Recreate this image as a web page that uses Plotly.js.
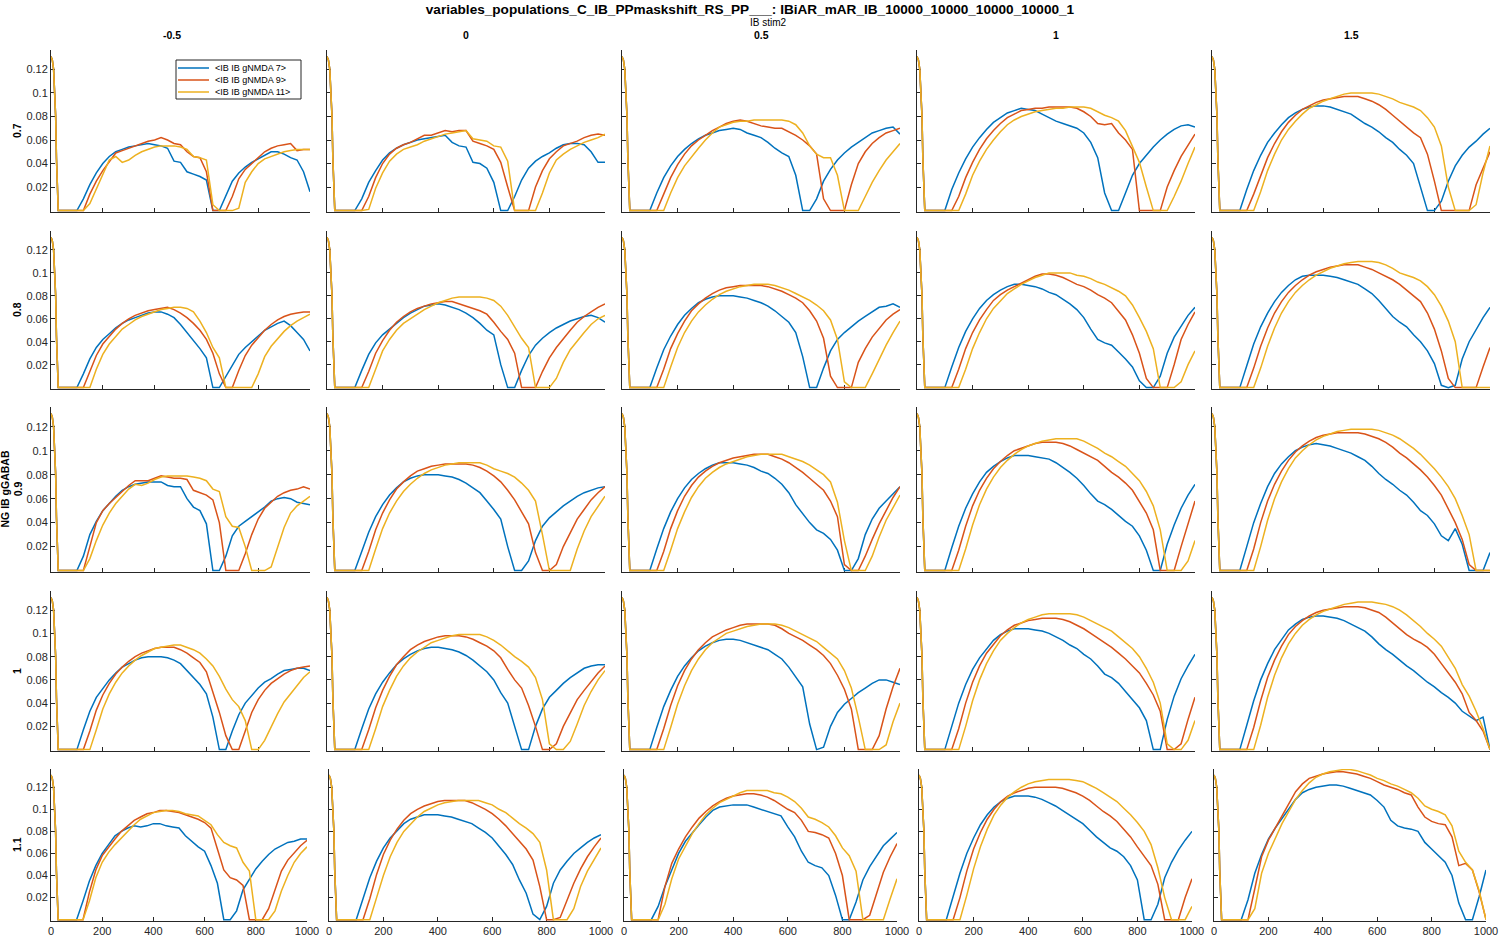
<!DOCTYPE html>
<html><head><meta charset="utf-8">
<script src="https://cdn.plot.ly/plotly-3.0.1.min.js"></script>
<style>html,body{margin:0;padding:0;background:#fff}#chart{width:1500px;height:938px}</style>
</head><body><div id="chart"></div>
<script>
// ---------------- DATA ----------------
const TIME_HEAD = [0,5,10,14,18,21,24,28];
const RATE_HEAD = [0.131,0.128,0.120,0.104,0.080,0.045,0.015,0];
const TIME = [50,75,100,125,150,175,200,225,250,275,300,325,350,375,400,425,450,475,500,525,550,575,600,625,650,675,700,725,750,775,800,825,850,875,900,925,950,975,1000];

const rowLabels = ['0.7','0.8','0.9','1','1.1'];
const colLabels = ['-0.5','0','0.5','1','1.5'];
const seriesNames = ['&lt;IB IB gNMDA 7&gt;','&lt;IB IB gNMDA 9&gt;','&lt;IB IB gNMDA 11&gt;'];
const seriesColors = ['#0072BD','#D95319','#EDB120'];
const xTicks = [0,200,400,600,800,1000];
const yTicks = [0.02,0.04,0.06,0.08,0.1,0.12];
const yTickText = ['0.02','0.04','0.06','0.08','0.1','0.12'];

// row 0.7
const r07m05_g7 = [0,0,0,.010,.022,.032,.040,.046,.050,.052, .054,.055,.056,.057,.056,.055,.053,.042,.041,.033, .031,.029,.026,0,0,.013,.025,.032,.037,.041, .044,.047,.050,.050,.048,.045,.043,.033,.016];
const r07m05_g9 = [0,0,0,0,.014,.025,.034,.042,.049,.051, .053,.055,.057,.059,.060,.062,.060,.057,.056,.050, .046,.045,.033,0,0,0,.012,.027,.035,.040, .045,.050,.053,.055,.056,.057,.051,.052,.052];
const r07m05_g11 = [0,0,0,0,.006,.018,.030,.043,.046,.041, .043,.047,.050,.052,.054,.055,.055,.055,.054,.052, .046,.045,.043,.005,0,0,0,.002,.024,.033, .040,.044,.046,.048,.050,.051,.052,.052,.052];

const r07p00_g7 = [0,0,0,.010,.024,.034,.043,.049,.053,.056, .058,.060,.061,.062,.063,.064,.058,.055,.054,.041, .040,.036,.024,0,0,.012,.026,.036,.042,.046, .049,.053,.056,.057,.057,.056,.050,.041,.041];
const r07p00_g9 = [0,0,0,0,.012,.028,.040,.048,.053,.056, .058,.061,.064,.064,.066,.068,.067,.068,.068,.059, .057,.055,.052,.041,.020,0,0,0,.020,.034, .044,.050,.055,.057,.059,.062,.064,.065,.064];
const r07p00_g11 = [0,0,0,0,.001,.019,.032,.042,.048,.052, .054,.056,.059,.061,.063,.065,.066,.067,.068,.061, .060,.059,.055,.054,.042,0,0,0,0,.015, .032,.043,.048,.052,.055,.058,.060,.062,.065];

const r07p05_g7 = [0,0,0,.015,.028,.038,.046,.052,.057,.061, .064,.066,.068,.069,.070,.069,.066,.064,.062,.058, .053,.049,.046,.030,0,0,.010,.025,.035,.043, .049,.054,.058,.062,.066,.068,.070,.071,.065];
const r07p05_g9 = [0,0,0,0,.014,.028,.039,.048,.055,.060, .064,.068,.071,.074,.076,.077,.076,.074,.072,.071, .070,.070,.067,.064,.060,.055,.048,.010,0,0, 0,.022,.040,.050,.057,.062,.066,.068,.070];
const r07p05_g11 = [0,0,0,0,0,.015,.028,.038,.046,.053, .060,.066,.071,.073,.075,.076,.076,.077,.077,.077, .077,.077,.076,.073,.066,.055,.048,.045,.045,.030, 0,0,0,.012,.024,.034,.043,.050,.057];

const r07p10_g7 = [0,0,0,.018,.032,.044,.054,.062,.069,.075, .079,.083,.085,.087,.086,.085,.082,.079,.076,.074, .072,.070,.066,.058,.045,.015,0,0,.015,.030, .040,.047,.054,.060,.065,.069,.072,.073,.071];
const r07p10_g9 = [0,0,0,0,.012,.028,.041,.052,.061,.068, .074,.079,.082,.085,.086,.087,.087,.088,.088,.088, .088,.087,.084,.080,.074,.073,.074,.066,.060,.052, 0,0,0,0,.020,.034,.046,.056,.065];
const r07p10_g11 = [0,0,0,0,0,.014,.030,.042,.052,.060, .067,.073,.077,.080,.082,.084,.085,.086,.087,.087, .088,.088,.088,.087,.084,.081,.079,.076,.068,.055, .041,.020,0,0,0,.012,.025,.040,.054];

const r07p15_g7 = [0,0,0,.018,.034,.047,.058,.066,.073,.079, .083,.086,.088,.089,.089,.088,.086,.084,.082,.078, .074,.071,.067,.062,.058,.052,.047,.040,.020,0, 0,.008,.025,.038,.047,.054,.059,.065,.070];
const r07p15_g9 = [0,0,0,0,.014,.030,.045,.057,.067,.075, .081,.086,.089,.092,.094,.095,.096,.097,.097,.097, .095,.093,.090,.086,.081,.076,.071,.066,.062,.048, .025,0,0,0,0,0,.022,.036,.050];
const r07p15_g11 = [0,0,0,0,0,.016,.034,.048,.060,.069, .076,.082,.087,.090,.093,.095,.097,.099,.100,.100, .100,.100,.099,.097,.095,.092,.090,.088,.085,.079, .071,.055,.020,0,0,0,.005,.032,.055];

// row 0.8
const r08m05_g7 = [0,0,0,.012,.025,.035,.042,.047,.052,.056, .059,.061,.063,.065,.066,.066,.064,.061,.055,.048, .042,.034,.026,0,0,.010,.020,.029,.035,.040, .045,.050,.053,.056,.058,.054,.048,.042,.032];
const r08m05_g9 = [0,0,0,0,.014,.028,.038,.045,.051,.056, .060,.063,.065,.067,.068,.069,.070,.068,.065,.061, .056,.050,.042,.030,.012,0,0,.015,.028,.037, .044,.050,.055,.059,.062,.064,.065,.066,.066];
const r08m05_g11 = [0,0,0,0,0,.016,.029,.038,.045,.051, .055,.059,.062,.064,.066,.068,.069,.070,.070,.069, .066,.058,.048,.035,.026,0,0,0,0,0, .012,.027,.036,.043,.049,.054,.058,.061,.064];

const r08p00_g7 = [0,0,0,.015,.029,.039,.046,.051,.056,.061, .065,.068,.071,.072,.073,.072,.070,.068,.065,.061, .056,.050,.046,.020,0,0,.015,.028,.037,.043, .048,.052,.055,.058,.060,.062,.063,.061,.057];
const r08p00_g9 = [0,0,0,0,.014,.030,.041,.050,.057,.062, .066,.069,.071,.073,.074,.075,.075,.073,.071,.069, .067,.064,.057,.049,.042,.030,0,0,0,.014, .026,.035,.043,.050,.057,.062,.066,.070,.073];
const r08p00_g11 = [0,0,0,0,0,.016,.032,.042,.050,.056, .060,.064,.068,.071,.074,.076,.078,.079,.079,.079, .079,.078,.076,.071,.063,.053,.043,.035,0,0, 0,.008,.022,.033,.041,.048,.055,.060,.063];

const r08p05_g7 = [0,0,0,.017,.033,.045,.055,.063,.069,.074, .077,.079,.080,.080,.080,.079,.078,.076,.074,.071, .067,.062,.057,.048,.027,0,0,.017,.032,.042, .048,.053,.058,.062,.066,.070,.071,.073,.070];
const r08p05_g9 = [0,0,0,0,.016,.034,.047,.058,.067,.073, .078,.082,.085,.087,.088,.089,.089,.089,.089,.088, .086,.084,.081,.078,.074,.067,.058,.043,.010,0, 0,0,.022,.034,.044,.052,.059,.064,.068];
const r08p05_g11 = [0,0,0,0,0,.018,.035,.048,.058,.066, .072,.077,.081,.084,.086,.088,.089,.090,.090,.090, .089,.087,.085,.082,.079,.076,.072,.067,.059,.042, .005,0,0,0,.012,.025,.037,.048,.058];

const r08p10_g7 = [0,0,0,.018,.035,.049,.060,.069,.076,.081, .085,.088,.090,.090,.089,.088,.086,.083,.081,.077, .073,.068,.061,.051,.042,.039,.037,.031,.025,.018, .006,0,0,.010,.030,.044,.054,.063,.070];
const r08p10_g9 = [0,0,0,0,.016,.034,.048,.059,.068,.076, .081,.085,.088,.091,.094,.097,.099,.099,.098,.096, .093,.090,.088,.085,.081,.078,.074,.067,.059,.046, .030,.008,0,0,0,.020,.042,.055,.066];
const r08p10_g11 = [0,0,0,0,0,.016,.034,.048,.060,.069, .076,.082,.086,.090,.093,.096,.098,.100,.100,.100, .100,.098,.097,.095,.092,.090,.087,.084,.080,.072, .061,.049,.034,0,0,0,.005,.020,.032];

const r08p15_g7 = [0,0,0,.019,.038,.053,.065,.075,.083,.089, .094,.097,.098,.098,.098,.097,.096,.094,.092,.090, .086,.082,.076,.069,.062,.057,.053,.046,.040,.032, .021,.002,0,.002,.025,.040,.051,.061,.070];
const r08p15_g9 = [0,0,0,0,.017,.036,.052,.065,.075,.083, .089,.094,.098,.101,.103,.105,.106,.107,.107,.107, .105,.103,.100,.097,.094,.090,.085,.080,.075,.065, .051,.032,.008,0,0,0,0,.018,.035];
const r08p15_g11 = [0,0,0,0,0,.017,.036,.052,.065,.075, .083,.089,.094,.098,.101,.104,.106,.108,.109,.110, .110,.110,.109,.107,.104,.100,.098,.096,.093,.088, .081,.071,.058,.040,0,0,0,0,0];

// row 0.9
const r09m05_g7 = [0,0,0,.012,.030,.041,.050,.056,.062,.067, .070,.072,.073,.074,.074,.074,.071,.070,.070,.060, .053,.050,.039,0,0,.012,.029,.037,.041,.045, .049,.053,.058,.060,.061,.060,.057,.056,.055];
const r09m05_g9 = [0,0,0,0,.020,.040,.050,.056,.061,.066, .071,.075,.075,.075,.077,.079,.078,.077,.077,.076, .067,.065,.063,.059,.040,0,0,0,.014,.030, .043,.052,.057,.062,.065,.067,.068,.070,.068];
const r09m05_g11 = [0,0,0,0,.010,.025,.038,.048,.056,.062, .068,.072,.071,.073,.076,.078,.079,.079,.079,.079, .078,.077,.075,.068,.066,.045,.037,.036,.020,0, 0,0,.003,.020,.036,.048,.054,.058,.062];

const r09p00_g7 = [0,0,0,.016,.032,.045,.055,.063,.069,.074, .077,.079,.080,.080,.080,.079,.078,.076,.073,.069, .065,.058,.051,.043,.020,0,0,.008,.025,.037, .044,.049,.054,.058,.062,.065,.067,.069,.070];
const r09p00_g9 = [0,0,0,0,.016,.034,.048,.059,.068,.074, .079,.083,.085,.087,.088,.089,.089,.089,.089,.088, .086,.083,.079,.074,.067,.059,.049,.039,.015,0, 0,.005,.020,.032,.043,.051,.059,.065,.070];
const r09p00_g11 = [0,0,0,0,0,.018,.035,.048,.058,.066, .072,.077,.081,.084,.086,.088,.089,.090,.090,.090, .090,.088,.085,.083,.081,.078,.073,.067,.058,.030, 0,0,0,0,.018,.033,.045,.054,.062];

const r09p05_g7 = [0,0,0,.018,.035,.049,.060,.069,.076,.081, .085,.088,.090,.090,.090,.089,.088,.086,.083,.081, .077,.072,.065,.055,.047,.040,.034,.031,.026,.017, 0,0,.010,.030,.043,.052,.058,.064,.070];
const r09p05_g9 = [0,0,0,0,.016,.035,.050,.062,.071,.078, .083,.087,.090,.092,.094,.095,.096,.097,.097,.097, .095,.093,.090,.086,.082,.077,.072,.067,.058,.045, .005,0,0,.012,.026,.039,.050,.061,.070];
const r09p05_g11 = [0,0,0,0,0,.017,.035,.049,.061,.070, .077,.082,.086,.089,.091,.093,.095,.096,.097,.097, .097,.097,.095,.093,.091,.088,.084,.080,.074,.057, .025,0,0,0,.012,.028,.042,.053,.063];

const r09p10_g7 = [0,0,0,.019,.037,.052,.064,.074,.082,.087, .091,.094,.096,.096,.096,.095,.094,.093,.090,.086, .082,.077,.071,.064,.058,.055,.051,.046,.041,.037, .029,.017,0,0,.022,.038,.052,.063,.072];
const r09p10_g9 = [0,0,0,0,.017,.037,.054,.067,.077,.085, .091,.096,.100,.102,.104,.106,.107,.107,.107,.106, .104,.101,.098,.095,.092,.087,.082,.078,.073,.067, .058,.048,.034,0,0,0,.020,.040,.058];
const r09p10_g11 = [0,0,0,0,0,.018,.038,.055,.068,.078, .086,.092,.097,.101,.104,.106,.108,.109,.110,.110, .110,.110,.108,.105,.102,.098,.095,.091,.087,.081, .075,.066,.054,.034,0,0,0,.008,.025];

const r09p15_g7 = [0,0,0,.020,.040,.056,.070,.081,.089,.095, .100,.103,.105,.106,.105,.104,.102,.100,.098,.095, .092,.087,.081,.076,.072,.067,.063,.057,.050,.046, .039,.029,.025,.035,.022,0,0,0,.015];
const r09p15_g9 = [0,0,0,0,.018,.040,.058,.072,.083,.092, .099,.104,.108,.111,.113,.114,.115,.115,.115,.115, .114,.112,.110,.107,.103,.098,.094,.089,.084,.078, .071,.063,.052,.040,.026,.005,0,0,0];
const r09p15_g11 = [0,0,0,0,0,.020,.042,.060,.074,.085, .094,.100,.105,.109,.112,.114,.116,.117,.118,.118, .118,.118,.117,.115,.113,.110,.106,.102,.097,.091, .085,.078,.070,.060,.046,.030,0,0,0];

// row 1
const r10m05_g7 = [0,0,0,.017,.033,.045,.053,.060,.066,.071, .074,.077,.079,.080,.080,.080,.079,.077,.074,.068, .062,.056,.048,.028,0,0,.016,.030,.040,.047, .053,.058,.061,.065,.068,.069,.070,.070,.068];
const r10m05_g9 = [0,0,0,0,.016,.034,.047,.057,.065,.071, .076,.080,.083,.085,.087,.088,.088,.088,.086,.083, .079,.075,.067,.050,.032,.012,0,0,.016,.032, .043,.051,.057,.061,.065,.068,.070,.071,.072];
const r10m05_g11 = [0,0,0,0,0,.017,.035,.048,.058,.066, .072,.077,.081,.084,.087,.088,.089,.090,.090,.088, .086,.083,.078,.072,.063,.052,.043,.037,.025,0, 0,.008,.020,.031,.041,.048,.055,.062,.067];

const r10p00_g7 = [0,0,0,.018,.035,.048,.058,.066,.073,.078, .082,.085,.087,.088,.088,.087,.086,.084,.081,.077, .072,.067,.060,.049,.040,.020,0,0,.020,.035, .045,.051,.057,.062,.066,.070,.072,.073,.073];
const r10p00_g9 = [0,0,0,0,.017,.036,.051,.063,.073,.080, .086,.090,.093,.095,.097,.098,.098,.098,.097,.095, .092,.089,.085,.079,.069,.060,.053,.038,.020,0, 0,.005,.020,.032,.043,.051,.059,.066,.072];
const r10p00_g11 = [0,0,0,0,0,.018,.037,.051,.063,.072, .079,.084,.088,.092,.094,.096,.098,.099,.099,.099, .099,.097,.094,.090,.085,.080,.076,.071,.062,.043, .005,0,0,.007,.022,.038,.050,.060,.068];

const r10p05_g7 = [0,0,0,.019,.037,.051,.063,.072,.079,.085, .089,.092,.094,.095,.095,.094,.092,.090,.088,.086, .082,.078,.071,.062,.054,.022,0,.002,.020,.032, .039,.044,.049,.053,.057,.060,.060,.058,.056];
const r10p05_g9 = [0,0,0,0,.018,.038,.055,.068,.078,.086, .092,.097,.100,.103,.105,.107,.108,.108,.108,.108, .107,.104,.100,.097,.094,.090,.086,.081,.074,.064, .052,.035,0,0,0,.012,.035,.054,.070];
const r10p05_g11 = [0,0,0,0,0,.019,.039,.055,.068,.078, .086,.092,.096,.100,.102,.104,.106,.107,.108,.108, .108,.107,.105,.102,.099,.096,.093,.088,.083,.078, .068,.053,.028,0,0,0,.004,.024,.040];

const r10p10_g7 = [0,0,0,.020,.040,.056,.069,.079,.087,.094, .099,.102,.104,.104,.104,.103,.102,.100,.097,.094, .090,.087,.082,.078,.072,.065,.062,.057,.050,.043, .036,.025,0,0,.026,.046,.061,.072,.082];
const r10p10_g9 = [0,0,0,0,.018,.040,.058,.072,.083,.091, .098,.103,.107,.109,.111,.112,.113,.113,.113,.112, .110,.107,.104,.100,.096,.092,.088,.083,.078,.072, .066,.057,.047,.033,0,0,.005,.026,.045];
const r10p10_g11 = [0,0,0,0,0,.020,.042,.060,.074,.085, .094,.100,.105,.109,.112,.114,.116,.117,.117,.117, .117,.116,.114,.111,.108,.105,.102,.097,.092,.087, .080,.070,.058,.040,.005,0,0,.008,.025];

const r10p15_g7 = [0,0,0,.021,.042,.060,.074,.086,.095,.103, .108,.112,.114,.115,.115,.114,.113,.111,.108,.105, .102,.097,.091,.086,.082,.077,.072,.068,.063,.058, .054,.049,.045,.040,.033,.029,.025,.028,0];
const r10p15_g9 = [0,0,0,0,.019,.042,.062,.077,.089,.099, .106,.111,.115,.118,.120,.121,.122,.123,.123,.123, .122,.120,.118,.114,.109,.104,.099,.095,.092,.088, .082,.074,.066,.058,.048,.032,.025,.016,0];
const r10p15_g11 = [0,0,0,0,0,.021,.045,.064,.079,.091, .100,.107,.112,.116,.119,.121,.123,.125,.126,.127, .127,.127,.126,.125,.123,.120,.116,.111,.106,.100, .095,.089,.080,.070,.056,.046,.033,.018,0];

// row 1.1
const r11m05_g7 = [0,0,0,.017,.035,.049,.060,.068,.076,.080, .083,.085,.084,.085,.087,.087,.085,.084,.083,.076, .071,.066,.062,.049,.033,0,0,.008,.027,.037, .046,.053,.059,.064,.067,.070,.071,.073,.073];
const r11m05_g9 = [0,0,0,0,.025,.045,.058,.066,.073,.080, .085,.090,.093,.096,.097,.099,.099,.098,.097,.095, .093,.091,.088,.083,.064,.045,.038,.036,.031,0, 0,0,.010,.028,.044,.054,.061,.067,.072];
const r11m05_g11 = [0,0,0,0,.017,.038,.052,.061,.068,.074, .080,.086,.091,.094,.097,.098,.099,.099,.098,.096, .095,.094,.090,.086,.077,.070,.067,.065,.052,.044, 0,0,0,.008,.026,.040,.052,.060,.066];

const r11p00_g7 = [0,0,0,.019,.038,.053,.065,.074,.081,.087, .091,.093,.095,.095,.095,.094,.093,.091,.089,.087, .083,.079,.074,.067,.059,.050,.036,.024,.005,0, .012,.033,.045,.053,.060,.065,.070,.074,.077];
const r11p00_g9 = [0,0,0,0,.019,.041,.059,.072,.082,.090, .096,.100,.103,.105,.107,.108,.108,.108,.108,.106, .103,.100,.096,.091,.085,.078,.070,.064,.054,.030, 0,0,.002,.018,.033,.046,.057,.066,.074];
const r11p00_g11 = [0,0,0,0,0,.020,.040,.057,.070,.080, .087,.093,.098,.101,.104,.106,.107,.108,.108,.108, .108,.106,.104,.100,.097,.092,.087,.083,.078,.070, .045,0,0,0,.010,.030,.044,.055,.065];

const r11p05_g7 = [0,0,0,.012,.030,.045,.060,.071,.079,.086, .093,.099,.102,.103,.104,.104,.104,.102,.100,.098, .096,.094,.084,.075,.062,.052,.049,.047,.040,.022, 0,0,.016,.036,.048,.058,.067,.073,.079];
const r11p05_g9 = [0,0,0,0,.030,.051,.064,.075,.084,.092, .098,.103,.107,.110,.112,.113,.114,.114,.113,.111, .108,.104,.100,.097,.090,.080,.079,.077,.074,.060, .040,0,0,0,.004,.024,.043,.057,.069];
const r11p05_g11 = [0,0,0,0,.014,.037,.055,.067,.078,.087, .095,.101,.106,.109,.112,.115,.117,.117,.117,.117, .115,.114,.111,.107,.101,.093,.091,.088,.084,.076, .065,.058,.044,0,0,0,0,.019,.037];

const r11p10_g7 = [0,0,0,.021,.042,.060,.074,.086,.095,.102, .107,.110,.112,.112,.112,.111,.109,.106,.103,.099, .095,.091,.087,.081,.075,.070,.065,.062,.057,.049, .036,0,0,.014,.038,.052,.063,.072,.080];
const r11p10_g9 = [0,0,0,0,.020,.044,.064,.079,.091,.100, .107,.112,.115,.117,.119,.120,.120,.120,.120,.119, .117,.115,.112,.108,.103,.098,.094,.089,.082,.075, .066,.058,.049,.032,0,0,0,.020,.037];
const r11p10_g11 = [0,0,0,0,0,.022,.046,.066,.082,.095, .104,.111,.116,.120,.123,.125,.126,.127,.127,.127, .127,.126,.125,.122,.119,.115,.111,.107,.101,.095, .088,.080,.068,.047,.020,0,0,0,.012];

const r11p15_g7 = [0,0,0,.018,.042,.059,.073,.083,.092,.100, .109,.115,.118,.120,.121,.122,.122,.121,.119,.117, .115,.113,.108,.102,.090,.085,.083,.082,.080,.070, .064,.058,.052,.040,.015,0,0,.021,.045];
const r11p15_g9 = [0,0,0,0,.028,.057,.072,.083,.095,.105, .116,.123,.128,.130,.132,.133,.134,.134,.133,.132, .130,.128,.125,.122,.120,.118,.115,.113,.102,.093, .089,.087,.086,.075,.049,.051,.045,.025,0];
const r11p15_g11 = [0,0,0,0,.010,.042,.060,.074,.087,.098, .109,.117,.124,.129,.132,.134,.135,.136,.136,.135, .133,.131,.128,.126,.123,.121,.118,.115,.110,.103, .100,.098,.095,.085,.062,.052,.045,.026,0];

const panels = [
  [[r07m05_g7,r07m05_g9,r07m05_g11],[r07p00_g7,r07p00_g9,r07p00_g11],[r07p05_g7,r07p05_g9,r07p05_g11],[r07p10_g7,r07p10_g9,r07p10_g11],[r07p15_g7,r07p15_g9,r07p15_g11]],
  [[r08m05_g7,r08m05_g9,r08m05_g11],[r08p00_g7,r08p00_g9,r08p00_g11],[r08p05_g7,r08p05_g9,r08p05_g11],[r08p10_g7,r08p10_g9,r08p10_g11],[r08p15_g7,r08p15_g9,r08p15_g11]],
  [[r09m05_g7,r09m05_g9,r09m05_g11],[r09p00_g7,r09p00_g9,r09p00_g11],[r09p05_g7,r09p05_g9,r09p05_g11],[r09p10_g7,r09p10_g9,r09p10_g11],[r09p15_g7,r09p15_g9,r09p15_g11]],
  [[r10m05_g7,r10m05_g9,r10m05_g11],[r10p00_g7,r10p00_g9,r10p00_g11],[r10p05_g7,r10p05_g9,r10p05_g11],[r10p10_g7,r10p10_g9,r10p10_g11],[r10p15_g7,r10p15_g9,r10p15_g11]],
  [[r11m05_g7,r11m05_g9,r11m05_g11],[r11p00_g7,r11p00_g9,r11p00_g11],[r11p05_g7,r11p05_g9,r11p05_g11],[r11p10_g7,r11p10_g9,r11p10_g11],[r11p15_g7,r11p15_g9,r11p15_g11]]
];

// ---------------- LAYOUT ----------------
const W = 1500, H = 938;
const ROW_PX = [[50,212],[231,389],[407,572],[591,751],[769,921]];
const COL_PX = [[51,310],[327,605],[622,900],[917,1195],[1212,1490]];
const COL_PX_LAST = [[51,307],[329,601],[624,897],[919,1192],[1214,1486]];
const FONT = '"Liberation Sans", Arial, Helvetica, sans-serif';
const AX = '#262626';
const px = v => v / W;
const py = v => 1 - v / H;

const traces = [];
const layout = {
  width: W, height: H,
  margin: {l:0, r:0, t:0, b:0},
  paper_bgcolor: '#fff', plot_bgcolor: '#fff',
  font: {family: FONT, color: AX},
  showlegend: false,
  title: {text: '<b>variables_populations_C_IB_PPmaskshift_RS_PP___: IBiAR_mAR_IB_10000_10000_10000_10000_1</b>',
          x: 0.5, xanchor: 'center', y: py(9), yanchor: 'middle',
          font: {size: 13.6, family: FONT, color: '#000'}},
  annotations: [],
  shapes: []
};

for (let r = 0; r < 5; r++) {
  for (let c = 0; c < 5; c++) {
    const k = r*5 + c;
    const sfx = k === 0 ? '' : String(k+1);
    const cols = r === 4 ? COL_PX_LAST : COL_PX;
    layout['xaxis'+sfx] = {
      domain: [px(cols[c][0]), px(cols[c][1])], anchor: 'y'+sfx, range: [0,1000],
      showline: true, linecolor: AX, linewidth: 1, mirror: false,
      ticks: 'inside', ticklen: 4, tickwidth: 1, tickcolor: AX,
      tickvals: xTicks, ticktext: xTicks.map(String), showticklabels: r === 4,
      tickfont: {size: 11, color: AX, family: FONT},
      showgrid: false, zeroline: false, fixedrange: true, layer: 'below traces'
    };
    layout['yaxis'+sfx] = {
      domain: [py(ROW_PX[r][1]), py(ROW_PX[r][0])], anchor: 'x'+sfx, range: [-0.0012, 0.1365],
      showline: true, linecolor: AX, linewidth: 1, mirror: false,
      ticks: 'inside', ticklen: 4, tickwidth: 1, tickcolor: AX,
      tickvals: yTicks, ticktext: yTickText, showticklabels: c === 0,
      tickfont: {size: 11, color: AX, family: FONT},
      showgrid: false, zeroline: false, fixedrange: true, layer: 'below traces'
    };
    for (let s = 0; s < 3; s++) {
      traces.push({
        type: 'scatter', mode: 'lines',
        x: TIME_HEAD.concat(TIME), y: RATE_HEAD.concat(panels[r][c][s]),
        xaxis: 'x'+sfx, yaxis: 'y'+sfx,
        name: seriesNames[s], showlegend: false,
        line: {color: seriesColors[s], width: 1.5},
        hoverinfo: 'skip'
      });
    }
  }
}

// legend box (first panel)
const LEG = {x0: 176, x1: 301, y0: 60, y1: 99, lineX0: 178, lineX1: 209, textX: 213, rowY: [68, 80, 92]};
layout.shapes.push({type: 'rect', xref: 'paper', yref: 'paper', x0: px(LEG.x0), x1: px(LEG.x1), y0: py(LEG.y1), y1: py(LEG.y0),
  line: {color: AX, width: 1}, fillcolor: '#fff', layer: 'above'});
seriesNames.forEach((n, s) => {
  layout.shapes.push({type: 'line', xref: 'paper', yref: 'paper', x0: px(LEG.lineX0), x1: px(LEG.lineX1), y0: py(LEG.rowY[s]), y1: py(LEG.rowY[s]),
    line: {color: seriesColors[s], width: 1.5}, layer: 'above'});
  layout.annotations.push({text: n, xref: 'paper', yref: 'paper', x: px(LEG.textX), y: py(LEG.rowY[s]),
    xanchor: 'left', yanchor: 'middle', showarrow: false, font: {size: 9, color: '#000', family: FONT}});
});

// column labels
const colCenters = [172, 466, 761, 1056, 1351];
colLabels.forEach((t, c) => layout.annotations.push({
  text: '<b>' + t + '</b>', xref: 'paper', yref: 'paper', x: px(colCenters[c]), y: py(35),
  xanchor: 'center', yanchor: 'middle', showarrow: false, font: {size: 10.5, color: '#000', family: FONT}
}));
// supra column label
layout.annotations.push({text: 'IB stim2', xref: 'paper', yref: 'paper', x: px(768), y: py(22),
  xanchor: 'center', yanchor: 'middle', showarrow: false, font: {size: 10, color: '#000', family: FONT}});
// row labels
rowLabels.forEach((t, r) => {
  const yc = (ROW_PX[r][0] + ROW_PX[r][1]) / 2;
  const txt = r === 2 ? '<b>NG IB gGABAB</b><br><b>' + t + '</b>' : '<b>' + t + '</b>';
  layout.annotations.push({text: txt, xref: 'paper', yref: 'paper', x: px(r === 2 ? 11 : 17), y: py(yc),
    xanchor: 'center', yanchor: 'middle', textangle: -90, showarrow: false,
    font: {size: 10.5, color: '#000', family: FONT}});
});

Plotly.newPlot('chart', traces, layout, {staticPlot: true, displayModeBar: false});
</script></body></html>
